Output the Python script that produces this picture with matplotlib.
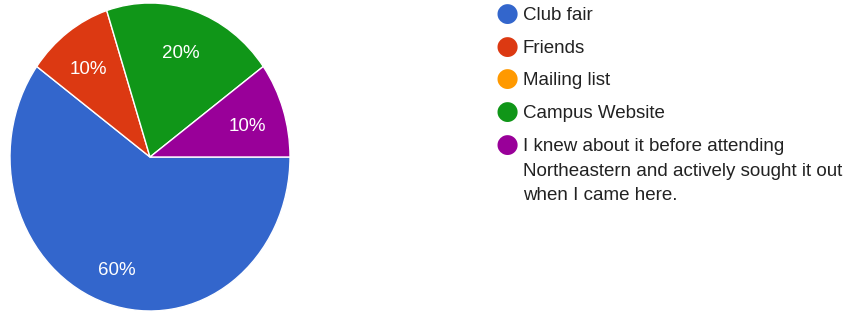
import matplotlib.pyplot as plt
import matplotlib.transforms as mtransforms

# survey: how did you hear about the club
labels = ["Club fair", "Friends", "Mailing list", "Campus Website",
          "I knew about it before attending\nNortheastern and actively sought it out\nwhen I came here."]
shares = [60, 10, 0, 20, 10]
colors = ["#3366cc", "#dc3912", "#ff9900", "#109618", "#990099"]

plt.rcParams["font.family"] = ["Liberation Sans", "DejaVu Sans"]

W, H = 851, 314
fig = plt.figure(figsize=(W / 100, H / 100), dpi=100)

# pie is slightly stretched vertically in the reference
ax = fig.add_axes([10 / W, 3 / H, 280 / W, 308 / H])
nz = [(s, c) for s, c in zip(shares, colors) if s > 0]
wedges, texts, autotexts = ax.pie(
    [s for s, _ in nz], colors=[c for _, c in nz],
    startangle=0, counterclock=False,
    autopct="%d%%", pctdistance=0.74,
    wedgeprops=dict(edgecolor="white", linewidth=1),
    textprops=dict(color="white", fontsize=13.5))
ax.set_aspect("auto")
ax.set_xlim(-1, 1)
ax.set_ylim(-1, 1)
shift = mtransforms.ScaledTranslation(-1 / 100, -5 / 100, fig.dpi_scale_trans)
for t in autotexts:
    t.set_transform(t.get_transform() + shift)

# legend drawn by hand
row_y = [14, 47, 79, 112, 145]
for lab, col, y in zip(labels, colors, row_y):
    fig.text(507 / W, 1 - y / H, "\u25CF", color=col, fontsize=19,
             ha="center", va="center", family="DejaVu Sans")
    fig.text(523 / W, 1 - (y - 7) / H, lab, color="#222222", fontsize=13.5,
             ha="left", va="top", linespacing=1.58)

fig.savefig("out.png", dpi=100)
